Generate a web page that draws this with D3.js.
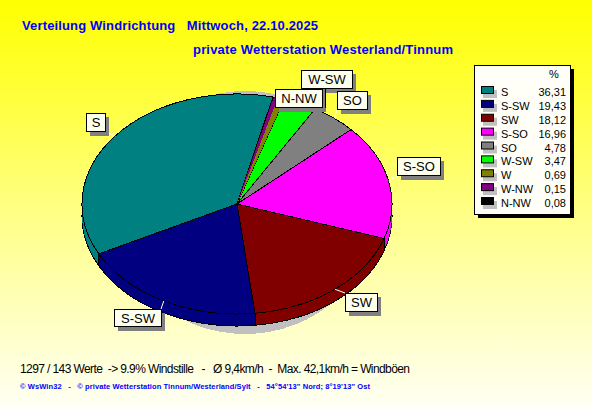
<!DOCTYPE html>
<html><head><meta charset="utf-8">
<style>html,body{margin:0;padding:0;background:#fff}svg{display:block}text{white-space:pre}</style>
<script src="https://cdn.jsdelivr.net/npm/d3@7"></script></head><body><script>
const categories=["S","S-SW","SW","S-SO","SO","W-SW","W","W-NW","N-NW"];
const values=[36.31,19.43,18.12,16.96,4.78,3.47,0.69,0.15,0.08];
const valueLabels=["36,31","19,43","18,12","16,96","4,78","3,47","0,69","0,15","0,08"];
const colors=["#008080","#000080","#800000","#ff00ff","#808080","#00ff00","#808000","#800080","#000000"];
const calloutNames=["W-SW","S","S-SW","SW","S-SO","SO","N-NW"];
const calloutBoxes=[[301,70,51,19],[86,113,19,19],[114,309,47,18],[345,293,32,19],[397,157,43,19],[337,91,30,19],[275,89,47,19]];
const W=592,H=407,cx=237,cy=204,rx=155,ry=110,depth=12,start=13.4*Math.PI/180;
const svg=d3.select("body").append("svg").attr("width",W).attr("height",H);
const grad=svg.append("defs").append("linearGradient").attr("id","bg").attr("x1",0).attr("y1",0).attr("x2",0).attr("y2",1);
grad.append("stop").attr("offset",0).attr("stop-color","#ffff00");
grad.append("stop").attr("offset",0.5).attr("stop-color","#ffff80");
grad.append("stop").attr("offset",1).attr("stop-color","#fffff4");
svg.append("rect").attr("width",W).attr("height",H).attr("fill","url(#bg)");
const font="'Liberation Sans',Arial,sans-serif";
const txt=(s,x,y,size,fill,weight,len)=>{const t=svg.append("text").attr("x",x).attr("y",y).attr("font-family",font).attr("font-size",size).attr("fill",fill).attr("font-weight",weight||"normal").text(s);if(len)t.attr("textLength",len).attr("lengthAdjust","spacing");return t;};
txt("Verteilung Windrichtung   Mittwoch, 22.10.2025",22,30,13,"#0000ff","bold",296);
txt("private Wetterstation Westerland/Tinnum",193,54,13,"#0000ff","bold",260);
// shadow
svg.append("ellipse").attr("cx",245).attr("cy",212.5).attr("rx",130).attr("ry",121.5).attr("fill","#c0c0c0").attr("shape-rendering","crispEdges");
// the thinnest visible slice is drawn a little wider, as the original's pixel rounding does
const pie=d3.pie().sort(null).value(v=>(v>=0.1&&v<0.45)?0.45:v).startAngle(start).endAngle(start-2*Math.PI)(values);
const arc=d3.arc().innerRadius(0).outerRadius(rx);
const layer=(dy,stroke)=>{const g=svg.append("g").attr("transform",`translate(${cx},${cy+dy}) scale(1,${ry/rx})`).attr("shape-rendering","crispEdges");
 g.selectAll("path").data(pie).join("path").attr("d",arc).attr("fill",(d,i)=>colors[i]).attr("stroke",d=>stroke&&(d.data>=1||d.data<0.1)?"#000":"none").attr("stroke-width",1).attr("vector-effect","non-scaling-stroke");};
layer(depth,true);
for(const dy of d3.range(depth-1,0,-1))layer(dy,false);
// wall edges
const px=a=>cx+rx*Math.sin(a),py=a=>cy-ry*Math.cos(a);
pie.forEach(d=>{if(Math.cos(d.endAngle)<0)svg.append("line").attr("x1",px(d.endAngle)).attr("x2",px(d.endAngle)).attr("y1",py(d.endAngle)).attr("y2",py(d.endAngle)+depth).attr("stroke","#000").attr("shape-rendering","crispEdges");});
layer(0,true);
// thin slices repainted over their neighbours' outlines
{const g=svg.append("g").attr("transform",`translate(${cx},${cy}) scale(1,${ry/rx})`).attr("shape-rendering","crispEdges");
 g.selectAll("path").data(pie.filter(d=>d.data<1&&d.data>=0.1)).join("path").attr("d",arc).attr("fill",d=>colors[d.index]);}
// callouts
calloutNames.forEach((name,k)=>{const [x,y,w,h]=calloutBoxes[k];const d=pie[categories.indexOf(name)],m=(d.startAngle+d.endAngle)/2;
 const sx=px(m),sy=py(m);
 if(name!=="W-SW"&&name!=="N-NW")svg.append("line").attr("x1",sx).attr("y1",sy).attr("x2",Math.max(x,Math.min(x+w,sx))).attr("y2",Math.max(y,Math.min(y+h,sy))).attr("stroke","#fff");
});
calloutNames.forEach((name,k)=>{const [x,y,w,h]=calloutBoxes[k];
 svg.append("rect").attr("x",x+4).attr("y",y+4).attr("width",w).attr("height",h).attr("fill","#808080");
 svg.append("rect").attr("x",x+.5).attr("y",y+.5).attr("width",w).attr("height",h-1).attr("fill","#ffffee").attr("stroke","#000");
 txt(name,x+w/2+.5,y+14,13,"#000").attr("text-anchor","middle");
});
svg.append("line").attr("x1",325.5).attr("x2",325.5).attr("y1",89).attr("y2",108).attr("stroke","#000");
// legend
svg.append("rect").attr("x",478).attr("y",69).attr("width",96).attr("height",149).attr("fill","#000");
svg.append("rect").attr("x",474.5).attr("y",65.5).attr("width",96).attr("height",149).attr("fill","#fffff8").attr("stroke","#000");
txt("%",549,78,11,"#000");
const rowY=d3.scalePoint().domain(categories).range([92,203]);
categories.forEach((c,i)=>{const y=rowY(c);
 svg.append("rect").attr("x",483).attr("y",y-2).attr("width",14).attr("height",8).attr("fill","#c0c0c0");
 svg.append("rect").attr("x",481.5).attr("y",y-5.5).attr("width",12).attr("height",7).attr("fill",colors[i]).attr("stroke","#000");
 txt(c,501,y+4,11,"#000");
 txt(valueLabels[i],566,y+4,11,"#000").attr("text-anchor","end");
});
txt("1297 / 143 Werte  -> 9.9% Windstille   -   Ø 9,4km/h  -  Max. 42,1km/h = Windböen",20,373,12,"#000","normal",390);
txt("© WsWin32   -   © private Wetterstation Tinnum/Westerland/Sylt   -   54°54'13\" Nord; 8°19'13\" Ost",20,389,7.5,"#0000ff","bold",350);
</script></body></html>
